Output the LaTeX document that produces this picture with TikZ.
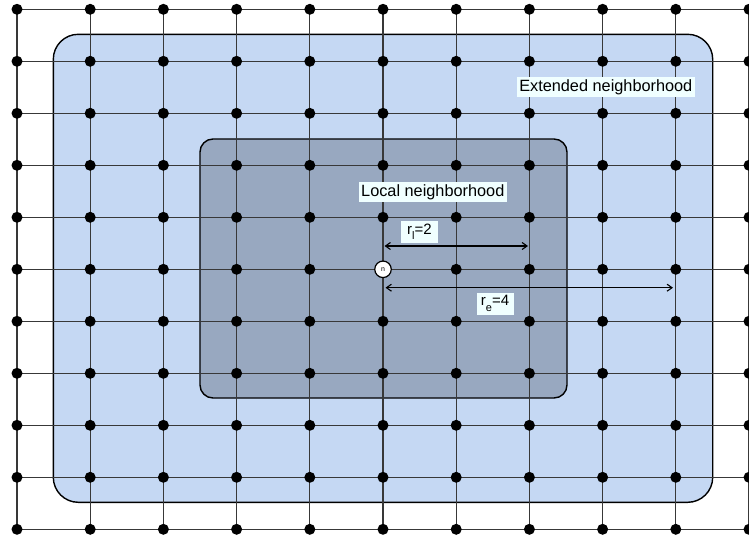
\documentclass[tikz,border=0pt]{standalone}
\usepackage{fontspec}
\setmainfont{Liberation Sans}
\usetikzlibrary{arrows.meta}

\definecolor{extfill}{RGB}{197,216,243}
\definecolor{locfill}{RGB}{152,168,192}
\definecolor{labelbg}{RGB}{240,255,255}

\tikzset{
  region/.style={draw=black, line width=1.4pt},
  gridline/.style={draw=black!78, line width=1.2pt},
  gridpt/.style={circle, fill=black, inner sep=0pt, minimum size=11pt},
  tag/.style={fill=labelbg, inner xsep=2.5pt, inner ysep=2.8pt,
    text height=11.6pt, text depth=3.4pt, font=\fontsize{16.3}{18}\selectfont},
  rtag/.style={fill=labelbg, inner sep=0pt, minimum width=37pt, minimum height=22pt,
    font=\fontsize{15}{17}\selectfont},
  radius arrow/.style={draw=black, line width=1.1pt,
    {Straight Barb[length=5pt,width=7pt]}-{Straight Barb[length=5pt,width=7pt]}},
  centre/.style={circle, draw=black, line width=1.2pt, fill=white,
    minimum size=16.5pt, inner sep=0pt, font=\fontsize{7}{7}\selectfont}
}

\newcommand{\subidx}[1]{\raisebox{-5.5pt}{\fontsize{11}{11}\selectfont #1}}

\begin{document}
\begin{tikzpicture}[x=1pt,y=-1pt]
\useasboundingbox (0,0) rectangle (749,538);

% neighbourhood regions
\draw[region, fill=extfill, rounded corners=25pt] (53.3,34.3) rectangle (712.7,502.3);
\draw[region, fill=locfill, rounded corners=13pt] (200,139) rectangle (567,398);

% lattice positions
\foreach \i in {0,...,10}
  \foreach \j in {0,...,10}
    \coordinate (p-\i-\j) at ({17+73.2*\i},{9.3+52*\j});

% lattice lines
\foreach \k in {0,...,10} {
  \draw[gridline] (p-\k-0) -- (p-\k-10);
  \draw[gridline] (p-0-\k) -- (p-10-\k);
}

% lattice points
\foreach \i in {0,...,10}
  \foreach \j in {0,...,10} {
    \ifnum\i=5 \ifnum\j=5 \else \node[gridpt] (d-\i-\j) at (p-\i-\j) {}; \fi
    \else \node[gridpt] (d-\i-\j) at (p-\i-\j) {}; \fi
  }

% labels
\node[tag] (local) at (432.8,192) {Local neighborhood};
\node[tag] (ext) at (605.8,87) {Extended neighborhood};
\node[rtag] (rl) at (419.5,232) {r\subidx{l}=2};
\node[rtag] (re) at (495,303.5) {r\subidx{e}=4};

% radius arrows
\coordinate (rl-a) at (384.5,246);
\coordinate (rl-b) at (528,246);
\coordinate (re-a) at (385.5,287.7);
\coordinate (re-b) at (673,287.7);
\draw[radius arrow] (rl-a) -- (rl-b);
\draw[radius arrow] (re-a) -- (re-b);

% centre node
\node[centre] (n) at (p-5-5) {n};
\end{tikzpicture}
\end{document}
